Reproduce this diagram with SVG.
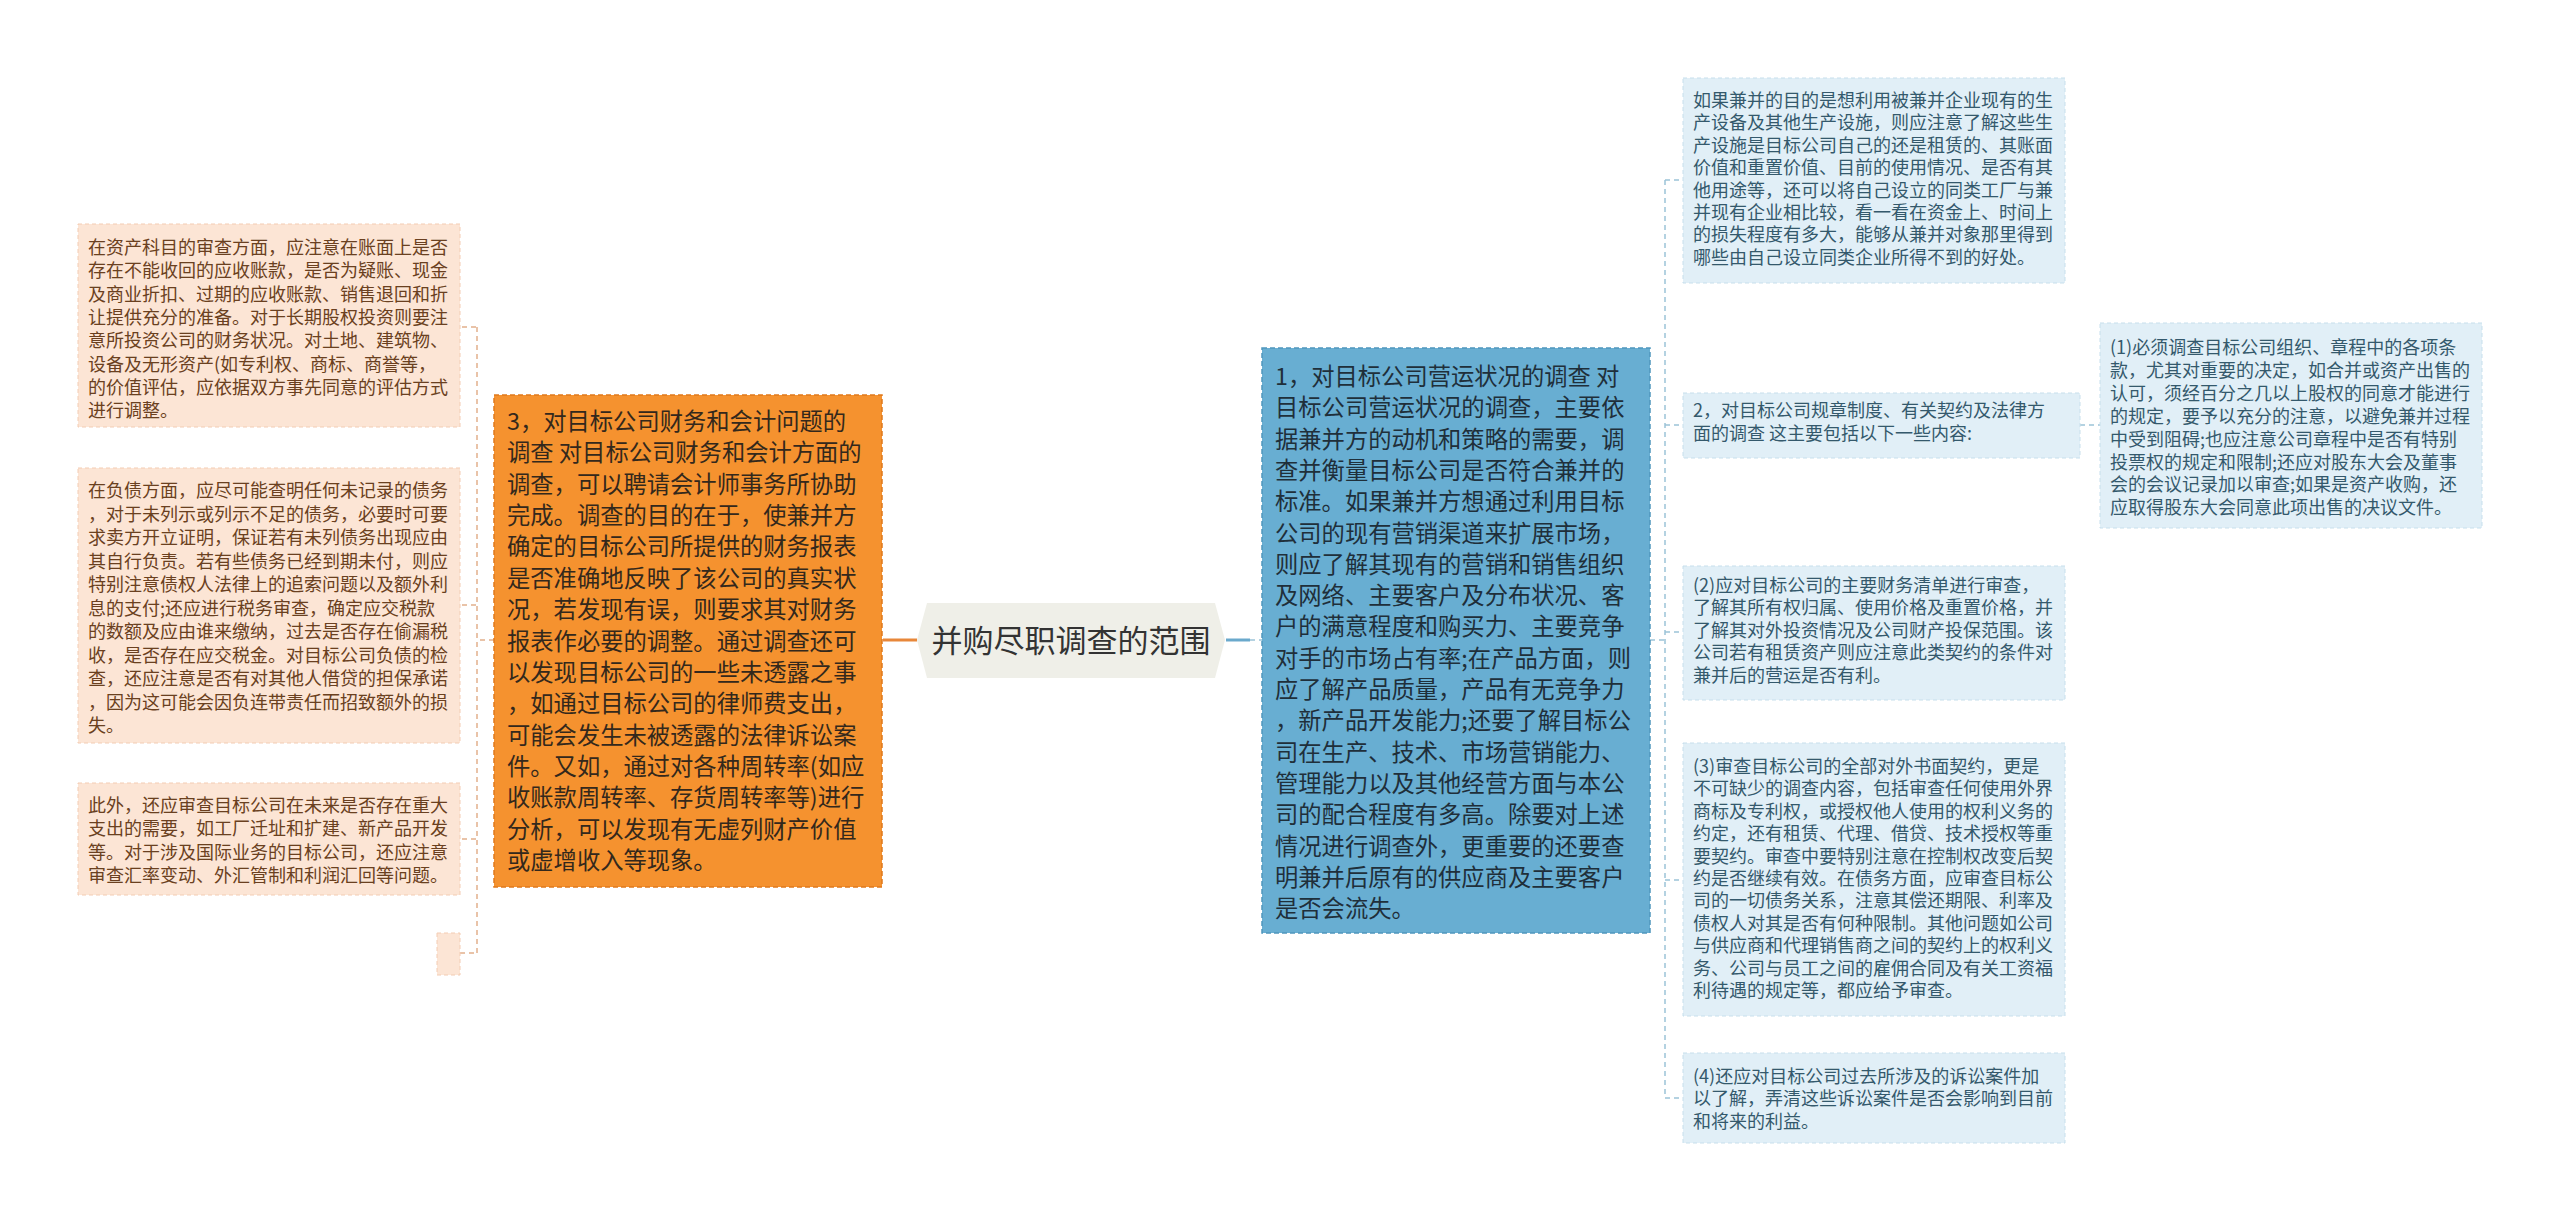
<svg xmlns="http://www.w3.org/2000/svg" width="2560" height="1223" viewBox="0 0 2560 1223">
<style>
text{font-family:"Noto Sans CJK SC","Noto Sans",sans-serif;}
.lf{fill:#fce5d5;stroke:#f3ccb3;stroke-width:1;stroke-dasharray:4 3;}
.lt{font-size:18px;fill:#6a4020;}
.rf{fill:#e1eff7;stroke:#c7dfec;stroke-width:1;stroke-dasharray:4 3;}
.rt{font-size:18px;fill:#34596c;}
.mt{font-size:23.3px;fill:#33281c;}
.bt{font-size:23.3px;fill:#1f2f3a;}
.dl{fill:none;stroke:#e2b08c;stroke-width:1.5;stroke-dasharray:5 4;}
.db{fill:none;stroke:#9cc3d8;stroke-width:1.5;stroke-dasharray:5 4;}
</style>
<rect width="2560" height="1223" fill="#ffffff"/>
<g id="connectors">
<line x1="883" y1="640" x2="917" y2="640" stroke="#e8873a" stroke-width="3"/>
<line x1="1226" y1="640" x2="1250" y2="640" stroke="#6aa9cc" stroke-width="3"/>
<line x1="1250" y1="640" x2="1262" y2="640" class="db"/>
<path class="dl" d="M494 640 H477 M477 327 V953 M462 327 H477 M462 605 H477 M462 839 H477 M460 953 H477"/>
<path class="db" d="M1650 640 H1665 M1665 180 V1098 M1665 180 H1683 M1665 425 H1683 M1665 632 H1683 M1665 880 H1683 M1665 1098 H1683 M2080 425 H2100"/>
</g>
<g id="center">
<polygon points="927,603 1215,603 1225,640 1215,678 927,678 917,640" fill="#efefe8"/>
<text x="1071" y="652" text-anchor="middle" font-size="31" fill="#333333">并购尽职调查的范围</text>
</g>
<g id="node-finance">
<rect x="494" y="395" width="388" height="492" fill="#f5922f" stroke="#e07a1c" stroke-width="1.5" stroke-dasharray="5 3"/>
<text class="mt">
<tspan x="507" y="430">3，对目标公司财务和会计问题的</tspan>
<tspan x="507" y="461.4">调查 对目标公司财务和会计方面的</tspan>
<tspan x="507" y="492.7">调查，可以聘请会计师事务所协助</tspan>
<tspan x="507" y="524.1">完成。调查的目的在于，使兼并方</tspan>
<tspan x="507" y="555.4">确定的目标公司所提供的财务报表</tspan>
<tspan x="507" y="586.8">是否准确地反映了该公司的真实状</tspan>
<tspan x="507" y="618.1">况，若发现有误，则要求其对财务</tspan>
<tspan x="507" y="649.5">报表作必要的调整。通过调查还可</tspan>
<tspan x="507" y="680.8">以发现目标公司的一些未透露之事</tspan>
<tspan x="507" y="712.2">，如通过目标公司的律师费支出，</tspan>
<tspan x="507" y="743.5">可能会发生未被透露的法律诉讼案</tspan>
<tspan x="507" y="774.9">件。又如，通过对各种周转率(如应</tspan>
<tspan x="507" y="806.2">收账款周转率、存货周转率等)进行</tspan>
<tspan x="507" y="837.6">分析，可以发现有无虚列财产价值</tspan>
<tspan x="507" y="868.9">或虚增收入等现象。</tspan>
</text>
</g>
<g id="leaf-assets">
<rect class="lf" x="78" y="224" width="382" height="203"/>
<text class="lt">
<tspan x="88" y="254">在资产科目的审查方面，应注意在账面上是否</tspan>
<tspan x="88" y="277.3">存在不能收回的应收账款，是否为疑账、现金</tspan>
<tspan x="88" y="300.6">及商业折扣、过期的应收账款、销售退回和折</tspan>
<tspan x="88" y="323.9">让提供充分的准备。对于长期股权投资则要注</tspan>
<tspan x="88" y="347.2">意所投资公司的财务状况。对土地、建筑物、</tspan>
<tspan x="88" y="370.5">设备及无形资产(如专利权、商标、商誉等，</tspan>
<tspan x="88" y="393.8">的价值评估，应依据双方事先同意的评估方式</tspan>
<tspan x="88" y="417.1">进行调整。</tspan>
</text>
</g>
<g id="leaf-debts">
<rect class="lf" x="78" y="468" width="382" height="275"/>
<text class="lt">
<tspan x="88" y="497">在负债方面，应尽可能查明任何未记录的债务</tspan>
<tspan x="88" y="520.5">，对于未列示或列示不足的债务，必要时可要</tspan>
<tspan x="88" y="544">求卖方开立证明，保证若有未列债务出现应由</tspan>
<tspan x="88" y="567.5">其自行负责。若有些债务已经到期未付，则应</tspan>
<tspan x="88" y="591">特别注意债权人法律上的追索问题以及额外利</tspan>
<tspan x="88" y="614.5">息的支付;还应进行税务审查，确定应交税款</tspan>
<tspan x="88" y="638">的数额及应由谁来缴纳，过去是否存在偷漏税</tspan>
<tspan x="88" y="661.5">收，是否存在应交税金。对目标公司负债的检</tspan>
<tspan x="88" y="685">查，还应注意是否有对其他人借贷的担保承诺</tspan>
<tspan x="88" y="708.5">，因为这可能会因负连带责任而招致额外的损</tspan>
<tspan x="88" y="732">失。</tspan>
</text>
</g>
<g id="leaf-future">
<rect class="lf" x="78" y="783" width="382" height="112"/>
<text class="lt">
<tspan x="88" y="812">此外，还应审查目标公司在未来是否存在重大</tspan>
<tspan x="88" y="835.3">支出的需要，如工厂迁址和扩建、新产品开发</tspan>
<tspan x="88" y="858.6">等。对于涉及国际业务的目标公司，还应注意</tspan>
<tspan x="88" y="881.9">审查汇率变动、外汇管制和利润汇回等问题。</tspan>
</text>
</g>
<g id="leaf-empty">
<rect class="lf" x="437" y="933" width="23" height="42"/>
</g>
<g id="node-operations">
<rect x="1262" y="348" width="388" height="585" fill="#68aed2" stroke="#4f97bd" stroke-width="1.5" stroke-dasharray="5 3"/>
<text class="bt">
<tspan x="1275" y="385">1，对目标公司营运状况的调查 对</tspan>
<tspan x="1275" y="416.3">目标公司营运状况的调查，主要依</tspan>
<tspan x="1275" y="447.6">据兼并方的动机和策略的需要，调</tspan>
<tspan x="1275" y="478.9">查并衡量目标公司是否符合兼并的</tspan>
<tspan x="1275" y="510.2">标准。如果兼并方想通过利用目标</tspan>
<tspan x="1275" y="541.5">公司的现有营销渠道来扩展市场，</tspan>
<tspan x="1275" y="572.8">则应了解其现有的营销和销售组织</tspan>
<tspan x="1275" y="604.1">及网络、主要客户及分布状况、客</tspan>
<tspan x="1275" y="635.4">户的满意程度和购买力、主要竞争</tspan>
<tspan x="1275" y="666.7">对手的市场占有率;在产品方面，则</tspan>
<tspan x="1275" y="698">应了解产品质量，产品有无竞争力</tspan>
<tspan x="1275" y="729.3">，新产品开发能力;还要了解目标公</tspan>
<tspan x="1275" y="760.6">司在生产、技术、市场营销能力、</tspan>
<tspan x="1275" y="791.9">管理能力以及其他经营方面与本公</tspan>
<tspan x="1275" y="823.2">司的配合程度有多高。除要对上述</tspan>
<tspan x="1275" y="854.5">情况进行调查外，更重要的还要查</tspan>
<tspan x="1275" y="885.8">明兼并后原有的供应商及主要客户</tspan>
<tspan x="1275" y="917.1">是否会流失。</tspan>
</text>
</g>
<g id="leaf-facilities">
<rect class="rf" x="1683" y="78" width="382" height="205"/>
<text class="rt">
<tspan x="1693" y="107">如果兼并的目的是想利用被兼并企业现有的生</tspan>
<tspan x="1693" y="129.4">产设备及其他生产设施，则应注意了解这些生</tspan>
<tspan x="1693" y="151.8">产设施是目标公司自己的还是租赁的、其账面</tspan>
<tspan x="1693" y="174.2">价值和重置价值、目前的使用情况、是否有其</tspan>
<tspan x="1693" y="196.6">他用途等，还可以将自己设立的同类工厂与兼</tspan>
<tspan x="1693" y="219">并现有企业相比较，看一看在资金上、时间上</tspan>
<tspan x="1693" y="241.4">的损失程度有多大，能够从兼并对象那里得到</tspan>
<tspan x="1693" y="263.8">哪些由自己设立同类企业所得不到的好处。</tspan>
</text>
</g>
<g id="node-legal">
<rect class="rf" x="1683" y="393" width="397" height="65"/>
<text class="rt">
<tspan x="1693" y="417">2，对目标公司规章制度、有关契约及法律方</tspan>
<tspan x="1693" y="440">面的调查 这主要包括以下一些内容:</tspan>
</text>
</g>
<g id="leaf-charter">
<rect class="rf" x="2100" y="323" width="382" height="205"/>
<text class="rt">
<tspan x="2110" y="354">(1)必须调查目标公司组织、章程中的各项条</tspan>
<tspan x="2110" y="376.9">款，尤其对重要的决定，如合并或资产出售的</tspan>
<tspan x="2110" y="399.8">认可，须经百分之几以上股权的同意才能进行</tspan>
<tspan x="2110" y="422.7">的规定，要予以充分的注意，以避免兼并过程</tspan>
<tspan x="2110" y="445.6">中受到阻碍;也应注意公司章程中是否有特别</tspan>
<tspan x="2110" y="468.5">投票权的规定和限制;还应对股东大会及董事</tspan>
<tspan x="2110" y="491.4">会的会议记录加以审查;如果是资产收购，还</tspan>
<tspan x="2110" y="514.3">应取得股东大会同意此项出售的决议文件。</tspan>
</text>
</g>
<g id="leaf-financial-list">
<rect class="rf" x="1683" y="566" width="382" height="134"/>
<text class="rt">
<tspan x="1693" y="592">(2)应对目标公司的主要财务清单进行审查，</tspan>
<tspan x="1693" y="614.4">了解其所有权归属、使用价格及重置价格，并</tspan>
<tspan x="1693" y="636.8">了解其对外投资情况及公司财产投保范围。该</tspan>
<tspan x="1693" y="659.2">公司若有租赁资产则应注意此类契约的条件对</tspan>
<tspan x="1693" y="681.6">兼并后的营运是否有利。</tspan>
</text>
</g>
<g id="leaf-contracts">
<rect class="rf" x="1683" y="743" width="382" height="273"/>
<text class="rt">
<tspan x="1693" y="773">(3)审查目标公司的全部对外书面契约，更是</tspan>
<tspan x="1693" y="795.4">不可缺少的调查内容，包括审查任何使用外界</tspan>
<tspan x="1693" y="817.8">商标及专利权，或授权他人使用的权利义务的</tspan>
<tspan x="1693" y="840.2">约定，还有租赁、代理、借贷、技术授权等重</tspan>
<tspan x="1693" y="862.6">要契约。审查中要特别注意在控制权改变后契</tspan>
<tspan x="1693" y="885">约是否继续有效。在债务方面，应审查目标公</tspan>
<tspan x="1693" y="907.4">司的一切债务关系，注意其偿还期限、利率及</tspan>
<tspan x="1693" y="929.8">债权人对其是否有何种限制。其他问题如公司</tspan>
<tspan x="1693" y="952.2">与供应商和代理销售商之间的契约上的权利义</tspan>
<tspan x="1693" y="974.6">务、公司与员工之间的雇佣合同及有关工资福</tspan>
<tspan x="1693" y="997">利待遇的规定等，都应给予审查。</tspan>
</text>
</g>
<g id="leaf-litigation">
<rect class="rf" x="1683" y="1053" width="382" height="90"/>
<text class="rt">
<tspan x="1693" y="1083">(4)还应对目标公司过去所涉及的诉讼案件加</tspan>
<tspan x="1693" y="1105.4">以了解，弄清这些诉讼案件是否会影响到目前</tspan>
<tspan x="1693" y="1127.8">和将来的利益。</tspan>
</text>
</g>
</svg>
